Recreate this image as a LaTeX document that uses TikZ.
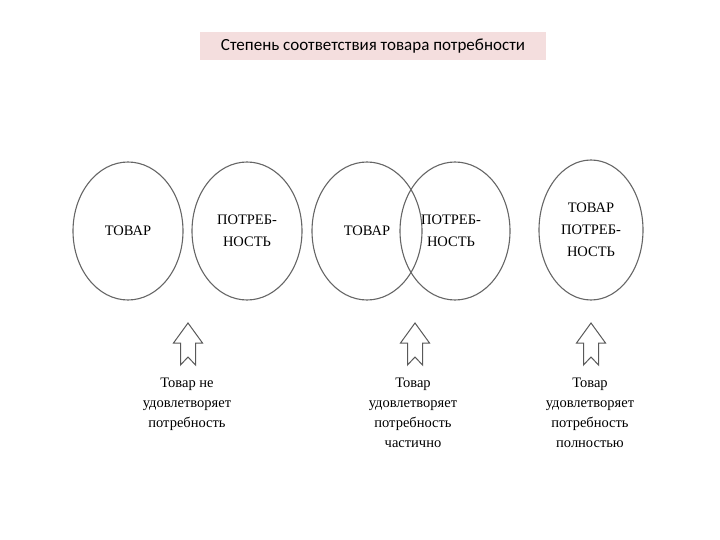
\documentclass[tikz,border=0pt]{standalone}
\usepackage{fontspec}
\setmainfont{Liberation Serif}
\newfontfamily\titlefont{Carlito}
\usetikzlibrary{shapes.geometric,positioning}
\definecolor{titlepink}{RGB}{244,222,222}

\begin{document}
\begin{tikzpicture}[
  x=1pt, y=-1pt,
  circ/.style={draw=black!60, line width=1.1pt, ellipse, minimum width=110pt, minimum height=138pt,
    align=center, inner sep=0pt, font=\fontsize{14.5}{22}\selectfont},
  label/.style={align=center, inner sep=0pt, font=\fontsize{14.5}{20}\selectfont},
  hollow/.style={draw=black!65, line width=1pt, line join=miter},
  title/.style={fill=titlepink, minimum width=346pt, minimum height=28pt, inner sep=0pt,
    font=\titlefont\fontsize{17}{20}\selectfont}
]
  \useasboundingbox (0,0) rectangle (720,540);

  \node[title] (head) at (373,46) {Степень соответствия товара потребности};

  % circles
  \node[circ] (tov1) at (128,231) {ТОВАР};
  \node[circ] (need1) at (247,231) {ПОТРЕБ-\\НОСТЬ};
  \node[circ] (tov2) at (367,231) {ТОВАР};
  \node[circ] (need2) at (455,231) {};
  \node[label, font=\fontsize{14.5}{22}\selectfont] (need2txt) at (451,231) {ПОТРЕБ-\\НОСТЬ};
  \node[circ, minimum width=104pt, minimum height=140pt] (both) at (591,230) {ТОВАР\\ПОТРЕБ-\\НОСТЬ};

  % hollow arrows
  \foreach \ax/\name in {188/arr1, 415/arr2, 591/arr3}{
    \coordinate (\name) at (\ax,323);
    \draw[hollow] (\name) -- ++(14.5,20) -- ++(-7,0) -- ++(0,22) -- ++(-7.5,-8)
      -- ++(-7.5,8) -- ++(0,-22) -- ++(-7,0) -- cycle;
  }

  % captions
  \node[label, anchor=north] (cap1) at (187,378) {Товар не\\удовлетворяет\\потребность};
  \node[label, anchor=north] (cap2) at (413,378) {Товар\\удовлетворяет\\потребность\\частично};
  \node[label, anchor=north] (cap3) at (590,378) {Товар\\удовлетворяет\\потребность\\полностью};
\end{tikzpicture}
\end{document}
